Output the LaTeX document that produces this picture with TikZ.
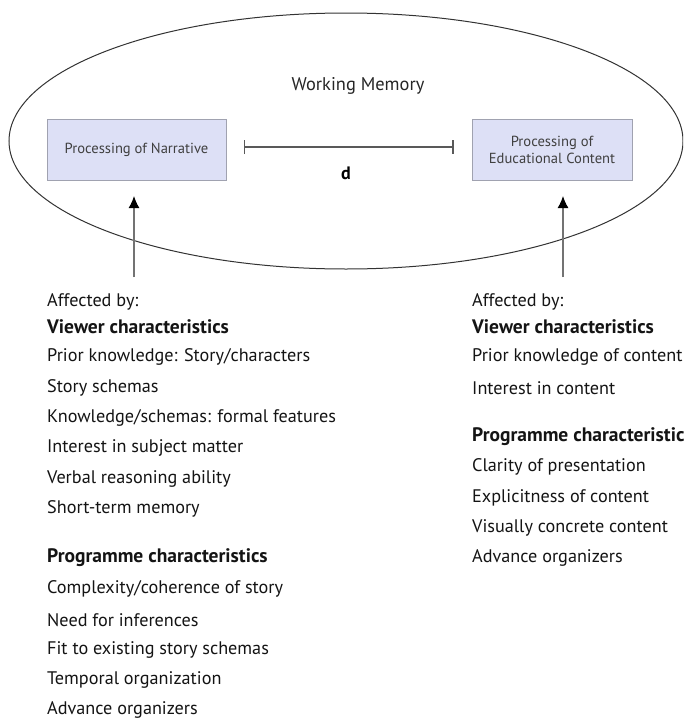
\documentclass[tikz,border=0pt]{standalone}
\usepackage{fontspec}
\setmainfont{PT Sans}
\usetikzlibrary{arrows.meta,shapes.geometric}
\definecolor{boxfill}{HTML}{DDE0F6}
\definecolor{boxline}{HTML}{A0A2B0}
\definecolor{boxtext}{HTML}{404040}
\tikzset{
  procbox/.style={draw=boxline, line width=1pt, fill=boxfill, minimum width=179pt, minimum height=61pt, inner sep=0pt, align=center, text=boxtext, font=\fontsize{14.6}{17.5}\selectfont},
  listtxt/.style={anchor=west, inner sep=0pt, text=black!92, font=\fontsize{18.2}{20}\selectfont},
  listhead/.style={listtxt, font=\fontsize{19.5}{21}\selectfont\bfseries},
  uparrow/.style={draw=black!55, line width=1.3pt, -{Latex[length=12pt,width=11pt,black]}},
  dist/.style={draw=black!65, line width=1.3pt, {Bar[width=14pt,line width=1.3pt]}-{Bar[width=14pt,line width=1.3pt]}}
}
\begin{document}
\begin{tikzpicture}[x=1pt,y=-1pt]
\useasboundingbox (0,0) rectangle (683,720);
\clip (0,0) rectangle (683,720);
\fill[white] (0,0) rectangle (683,720);
% ellipse
\node[draw=black!80, line width=1pt, ellipse, minimum width=674pt, minimum height=256pt, inner sep=0pt] (wm) at (346,141) {};
\node[inner sep=0pt, text=black!85, font=\fontsize{18.4}{20}\selectfont] (wmlabel) at (358,86) {Working Memory};
% boxes
\node[procbox] (nb) at (136.5,150) {Processing of Narrative};
\node[procbox, minimum width=160pt] (ne) at (552,150) {Processing of\\Educational Content};
% distance bar
\draw[dist, shorten <=17pt, shorten >=18pt] ([yshift=3pt]nb.east) -- ([yshift=3pt]ne.west);
\node[inner sep=0pt, font=\fontsize{18}{20}\selectfont\bfseries] (d) at (346,173) {d};
% arrows
\coordinate (ls) at (134,277);
\coordinate (rs) at (563,277);
\draw[uparrow, shorten >=15pt] (ls) -- (ls |- nb.south);
\draw[uparrow, shorten >=15pt] (rs) -- (rs |- ne.south);
% left list
\node[listtxt] (l1) at (47,302) {Affected by:};
\node[listhead] (l2) at (47,327) {Viewer characteristics};
\node[listtxt] (l3) at (47,357) {Prior knowledge: Story/characters};
\node[listtxt] (l4) at (47,388) {Story schemas};
\node[listtxt] (l5) at (47,418) {Knowledge/schemas: formal features};
\node[listtxt] (l6) at (47,448) {Interest in subject matter};
\node[listtxt] (l7) at (47,479) {Verbal reasoning ability};
\node[listtxt] (l8) at (47,509) {Short-term memory};
\node[listhead] (l9) at (47,558) {Programme characteristics};
\node[listtxt] (l10) at (47,589) {Complexity/coherence of story};
\node[listtxt] (l11) at (47,620) {Need for inferences};
\node[listtxt] (l12) at (47,650) {Fit to existing story schemas};
\node[listtxt] (l13) at (47,680) {Temporal organization};
\node[listtxt] (l14) at (47,710) {Advance organizers};
% right list
\node[listtxt] (r1) at (472,302) {Affected by:};
\node[listhead] (r2) at (472,327) {Viewer characteristics};
\node[listtxt] (r3) at (472,357) {Prior knowledge of content};
\node[listtxt] (r4) at (472,388) {Interest in content};
\node[listhead] (r5) at (472,437) {Programme characteristics};
\node[listtxt] (r6) at (472,467) {Clarity of presentation};
\node[listtxt] (r7) at (472,498) {Explicitness of content};
\node[listtxt] (r8) at (472,528) {Visually concrete content};
\node[listtxt] (r9) at (472,558) {Advance organizers};
\end{tikzpicture}
\end{document}
